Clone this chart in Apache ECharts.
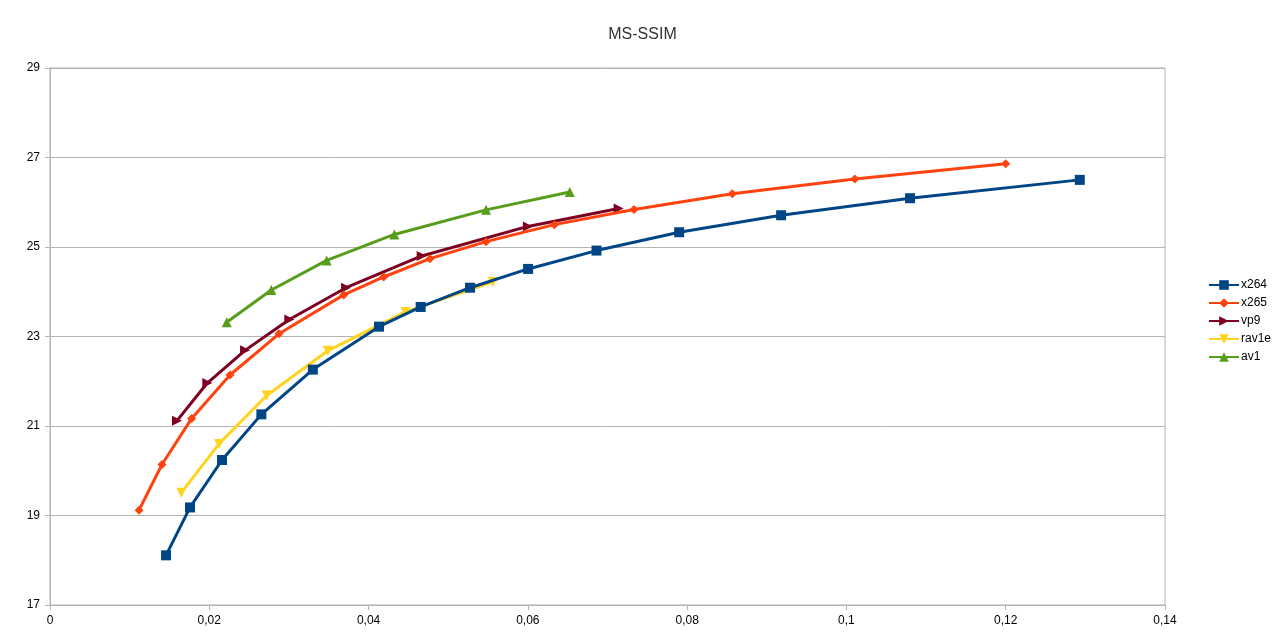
<!DOCTYPE html>
<html>
<head>
<meta charset="utf-8">
<script src="https://cdn.jsdelivr.net/npm/echarts@6/dist/echarts.min.js"></script>
<style>html,body{margin:0;padding:0;background:#fff}#c{width:1285px;height:643px}</style>
</head>
<body>
<div id="c"></div>
<script>
const seriesNames = ['x264', 'x265', 'vp9', 'rav1e', 'av1'];
const x264 = [[0.01457,18.11],[0.01758,19.18],[0.02160,20.24],[0.02654,21.26],[0.03300,22.26],[0.04131,23.22],[0.04654,23.66],[0.05274,24.09],[0.06003,24.51],[0.06862,24.92],[0.07900,25.33],[0.09180,25.71],[0.10799,26.09],[0.12930,26.50]];
const x265 = [[0.01118,19.12],[0.01406,20.14],[0.01779,21.17],[0.02260,22.14],[0.02875,23.06],[0.03688,23.93],[0.04190,24.33],[0.04771,24.74],[0.05475,25.12],[0.06333,25.50],[0.07333,25.84],[0.08567,26.19],[0.10105,26.52],[0.12000,26.86]];
const vp9 = [[0.01595,21.12],[0.01975,21.96],[0.02449,22.69],[0.03005,23.38],[0.03717,24.09],[0.04667,24.80],[0.06000,25.46],[0.07140,25.86]];
const rav1e = [[0.01649,19.51],[0.02122,20.60],[0.02721,21.68],[0.03487,22.68],[0.04461,23.55],[0.05559,24.22]];
const av1 = [[0.02219,23.32],[0.02779,24.04],[0.03474,24.70],[0.04323,25.28],[0.05475,25.83],[0.06526,26.23]];
const xTicks = ['0','0,02','0,04','0,06','0,08','0,1','0,12','0,14'];

const colors = ['#004586','#ff420e','#7e0021','#ffd320','#579d1c'];
const symbols = ['rect','diamond','path://M0,0 L10,5 L0,10 Z','path://M0,0 L10,0 L5,10 Z','triangle'];
const sizes = [10,9,10,10,10];
const datas = [x264, x265, vp9, rav1e, av1];

const chart = echarts.init(document.getElementById('c'));
chart.setOption({
  animation: false,
  color: colors,
  title: {
    text: 'MS-SSIM', left: 'center', top: 22,
    textStyle: {fontFamily: 'Liberation Sans', fontSize: 16, fontWeight: 'normal', color: '#333'}
  },
  grid: {left: 50, right: 120, top: 68, bottom: 38, show: true, borderColor: '#b3b3b3', borderWidth: 1},
  legend: {
    orient: 'vertical', left: 1203, top: 274, itemGap: 6, itemWidth: 30, itemHeight: 12,
    data: seriesNames,
    textStyle: {fontFamily: 'Liberation Sans', fontSize: 12, color: '#000', padding: [0,0,0,-3]}
  },
  xAxis: {
    type: 'value', min: 0, max: 0.14, interval: 0.02,
    axisLine: {lineStyle: {color: '#b3b3b3'}},
    axisTick: {show: true, length: 5, lineStyle: {color: '#b3b3b3'}},
    splitLine: {show: false},
    axisLabel: {
      fontFamily: 'Liberation Sans', fontSize: 12, color: '#000', margin: 10,
      formatter: v => xTicks[Math.round(v / 0.02)]
    }
  },
  yAxis: {
    type: 'value', min: 17, max: 29, interval: 2,
    axisLine: {show: true, lineStyle: {color: '#b3b3b3'}},
    axisTick: {show: true, length: 5, lineStyle: {color: '#b3b3b3'}},
    splitLine: {show: true, lineStyle: {color: '#b3b3b3'}},
    axisLabel: {fontFamily: 'Liberation Sans', fontSize: 12, color: '#000', margin: 10}
  },
  series: seriesNames.map((n, i) => ({
    name: n, type: 'line', data: datas[i],
    symbol: symbols[i], symbolSize: sizes[i], showAllSymbol: true,
    lineStyle: {width: 3, color: colors[i]},
    itemStyle: {color: colors[i]},
    z: 10 - i
  }))
});
</script>
</body>
</html>
